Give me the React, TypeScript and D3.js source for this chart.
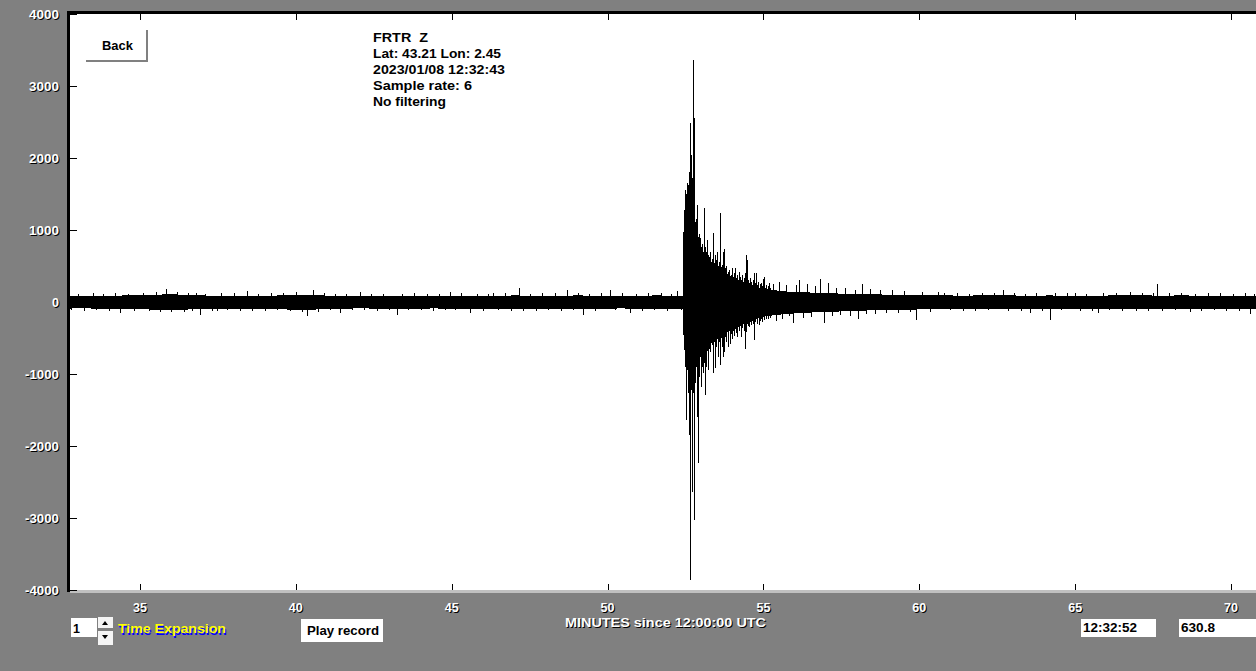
import React from "react";
import * as d3 from "d3";

// ---- data ----
const xTicks = [35, 40, 45, 50, 55, 60, 65, 70];
const yTicks = [4000, 3000, 2000, 1000, 0, -1000, -2000, -3000, -4000];
const xDomain = [35, 70];
const yDomain = [-4000, 4000];

const headerLines = [
  "FRTR\u00a0\u00a0Z",
  "Lat: 43.21 Lon: 2.45",
  "2023/01/08 12:32:43",
  "Sample rate: 6",
  "No filtering",
];
const headerWidths = [55, 128, 132, 99, 73];

// solid core envelope of the trace (counts)
const envMinutes = [
  32.66, 33.0, 33.5, 34.0, 34.5, 35.0, 35.5, 36.0, 36.5, 37.0, 37.5, 38.0, 38.5, 39.0, 39.5, 40.0,
  40.5, 41.0, 41.5, 42.0, 42.5, 43.0, 43.5, 44.0, 44.5, 45.0, 45.5, 46.0, 46.5, 47.0, 47.5, 48.0,
  48.5, 49.0, 49.5, 50.0, 50.5, 51.0, 51.5, 52.0, 52.42,
  52.46, 52.52, 52.58, 52.65, 52.71, 52.78, 52.82, 52.9, 53.06, 53.26, 53.48, 53.7, 54.03, 54.35,
  54.73, 55.08, 55.5, 55.85, 56.5, 57.14, 57.8, 58.42, 59.2, 60.02, 60.8, 61.5, 62.2, 63.0, 63.6,
  64.2, 64.9, 65.5, 66.2, 67.0, 67.7, 68.5, 69.2, 70.0, 70.8,
];
const envUpper = [
  82, 76, 80, 78, 84, 86, 95, 100, 92, 84, 80, 78, 82, 80, 84, 92,
  88, 82, 78, 74, 78, 80, 78, 76, 78, 80, 78, 76, 80, 84, 82, 78,
  80, 84, 82, 78, 80, 78, 84, 82, 82,
  1200, 1400, 1450, 1500, 1600, 1400, 950, 800, 650, 550, 480, 420, 320, 250,
  210, 170, 150, 135, 125, 115, 105, 100, 94, 88, 84, 82, 86, 84, 80,
  84, 78, 80, 84, 86, 82, 84, 80, 82, 82,
];
const envLower = [
  -86, -80, -84, -88, -92, -94, -100, -106, -98, -90, -92, -86, -88, -90, -92, -104,
  -100, -90, -86, -82, -84, -88, -86, -84, -83, -86, -88, -84, -84, -86, -88, -86,
  -88, -90, -88, -84, -83, -86, -85, -88, -86,
  -550, -850, -900, -1000, -1100, -1000, -850, -750, -700, -600, -480, -420, -350, -280,
  -220, -190, -170, -155, -140, -130, -118, -110, -104, -96, -92, -90, -92, -90, -94,
  -96, -88, -86, -90, -88, -90, -92, -88, -90, -88,
];

// per-pixel min/max columns through the main arrival (minutes, counts)
const eventMinutes = [
  52.453, 52.485, 52.517, 52.549, 52.581, 52.613, 52.645, 52.677, 52.71, 52.742,
  52.774, 52.806, 52.838, 52.87, 52.902, 52.934, 52.966, 52.998, 53.03, 53.063,
  53.095, 53.127, 53.159, 53.191, 53.223, 53.255, 53.287, 53.319, 53.352, 53.384,
  53.416, 53.448, 53.48, 53.512, 53.544, 53.576, 53.608, 53.64, 53.672, 53.704,
  53.737, 53.769, 53.801, 53.833, 53.865, 53.897, 53.929, 53.961, 53.993, 54.025,
  54.057, 54.089, 54.122, 54.154, 54.186, 54.218, 54.25, 54.282, 54.314, 54.346,
  54.378, 54.41, 54.442, 54.474, 54.507, 54.539, 54.571, 54.603, 54.635, 54.667,
  54.699, 54.731, 54.763, 54.795, 54.827, 54.859, 54.892, 54.924, 54.956, 54.988,
  55.02, 55.052, 55.084, 55.116, 55.148, 55.18, 55.212,
];
const eventUpper = [
  1260, 1550, 1500, 1650, 1620, 1800, 2490, 2040, 1720, 3360,
  2555, 1000, 1150, 1350, 900, 950, 890, 760, 800, 700,
  1305, 760, 700, 860, 650, 620, 700, 560, 600, 960,
  540, 650, 580, 695, 500, 560, 1235, 480, 520, 700,
  736, 470, 500, 380, 420, 445, 360, 380, 470, 350,
  400, 470, 330, 380, 300, 420, 350, 300, 380, 280,
  330, 400, 650, 583, 300, 260, 330, 280, 240, 300,
  400, 260, 400, 230, 280, 200, 250, 260, 220, 320,
  350, 200, 240, 180, 220, 260, 200,
];
const eventLower = [
  -570, -900, -1640, -950, -1270, -1850, -3860, -1220, -2640, -1270,
  -3030, -1130, -900, -1600, -2240, -1040, -760, -1180, -900, -990,
  -850, -1290, -900, -680, -940, -650, -700, -560, -600, -990,
  -560, -920, -620, -510, -760, -560, -880, -500, -620, -760,
  -700, -480, -560, -420, -620, -400, -590, -450, -520, -400,
  -470, -380, -430, -480, -350, -400, -330, -480, -360, -300,
  -400, -650, -420, -300, -340, -350, -280, -320, -260, -300,
  -530, -280, -240, -300, -220, -320, -260, -230, -280, -210,
  -250, -200, -230, -180, -240, -200, -220,
];

// spikes poking out of the core in the coda and the quiet parts (minutes, counts)
const spikeMinutes = [
  32.8, 33.0, 33.2, 33.49, 33.6, 33.8, 34.0, 34.2, 34.36, 34.6, 34.8, 35.1, 35.3, 35.5, 35.65,
  35.83, 36.0, 36.2, 36.4, 36.55, 36.67, 36.8, 36.92, 37.1, 37.3, 37.47, 37.6, 37.8, 38.0, 38.2,
  38.43, 38.6, 38.8, 39.0, 39.2, 39.4, 39.59, 39.8, 40.0, 40.2, 40.36, 40.55, 40.7, 40.9, 41.1,
  41.25, 41.42, 41.6, 41.8, 42.06, 42.2, 42.4, 42.6, 42.8, 43.0, 43.25, 43.4, 43.6, 43.8, 44.0,
  44.2, 44.4, 44.6, 44.8, 44.95, 45.1, 45.3, 45.59, 45.8, 46.0, 46.15, 46.32, 46.5, 46.7, 46.9,
  47.16, 47.3, 47.5, 47.7, 47.9, 48.1, 48.3, 48.5, 48.7, 48.9, 49.05, 49.21, 49.4, 49.6, 49.8,
  50.08, 50.25, 50.45, 50.72, 50.9, 51.1, 51.3, 51.5, 51.7, 51.9, 52.05, 52.23, 52.35,
  55.31, 55.4, 55.5, 55.6, 55.72, 55.82, 55.95, 56.05, 56.14, 56.27, 56.4, 56.53, 56.66, 56.82,
  56.94, 57.07, 57.2, 57.33, 57.46, 57.62, 57.78, 57.94, 58.04, 58.16, 58.29, 58.42, 58.58, 58.74,
  58.93, 59.13, 59.32, 59.51, 59.7, 59.9, 60.09, 60.34, 60.6,
  60.8, 61.0, 61.2, 61.4, 61.6, 61.8, 62.0, 62.2, 62.4, 62.69, 62.85, 63.05, 63.25, 63.4, 63.55,
  63.75, 63.95, 64.19, 64.35, 64.55, 64.75, 65.0, 65.15, 65.35, 65.55, 65.73, 65.9, 66.1, 66.3,
  66.5, 66.76, 66.95, 67.15, 67.35, 67.5, 67.63, 67.8, 68.0, 68.2, 68.4, 68.69, 68.85, 69.05,
  69.25, 69.45, 69.65, 69.85, 70.05, 70.25, 70.45, 70.61, 70.75,
];
const spikeCounts = [
  -110, 115, -120, 125, -115, 110, -125, 120, -150, 115, -120, 125, -130, 135, -140,
  180, -145, 140, -135, 125, -130, 120, -180, 115, -120, -130, 120, -115, 120, -125,
  155, -120, 115, -125, 120, -115, 125, -130, 135, -140, -200, 165, -135, 120, -115,
  115, -155, 110, -115, 140, -110, 115, -120, 110, -115, -180, 115, -110, 120, -115,
  110, -120, 115, -110, 140, -115, 120, -155, 115, -120, 115, 130, -115, 120, -125,
  190, -120, 115, -120, 125, -115, 120, -120, 165, -115, 120, -180, 115, -120, 120,
  165, -115, 120, -155, 115, -120, 120, -115, 125, -120, 115, 155, -115,
  250, -260, 280, -230, 240, -200, -290, 230, 306, -220, 250, -210, 220, 320,
  -290, 260, -200, 200, -180, 190, -190, 170, -240, 250, -170, 180, -160, 170,
  -150, 160, -150, 150, -140, -250, 140, -140, 135,
  120, -115, 130, -120, 115, -125, 120, -115, 125, 165, -120, 120, -125, 115, -150,
  120, -120, -250, 120, -115, 125, 130, -120, 115, -125, -150, 120, -115, 125,
  -120, 140, -120, 120, -125, 120, 250, -120, 125, -115, 120, -140, 115, -120,
  125, -115, 130, -120, 115, -125, 120, -170, 115,
];

// ---- layout ----
const W = 1256;
const H = 671;
const plotLeft = 70;
const plotTop = 14;
const plotBottom = 590;

function ShadowText(props: {
  x: number;
  y: number;
  text: string;
  anchor?: string;
  size?: number;
  weight?: string;
  fill?: string;
  shadow?: string;
  dx?: number;
  dy?: number;
  len?: number;
}) {
  const {
    x, y, text, anchor = "start", size = 12, weight = "bold",
    fill = "#ffffff", shadow = "#000000", dx = 1, dy = 1, len,
  } = props;
  const common: any = {
    textAnchor: anchor,
    fontSize: size,
    fontWeight: weight,
    fontFamily: "'Liberation Sans', Arial, sans-serif",
  };
  if (len) {
    common.textLength = len;
    common.lengthAdjust = "spacingAndGlyphs";
  }
  return (
    <g>
      <text x={x + dx} y={y + dy} fill={shadow} {...common}>{text}</text>
      <text x={x} y={y} fill={fill} {...common}>{text}</text>
    </g>
  );
}

export default function App() {
  const x = d3.scaleLinear().domain(xDomain).range([140, 1231]);
  const y = d3.scaleLinear().domain(yDomain).range([plotBottom, plotTop]);

  const idx = envMinutes.map((_, i) => i);
  const area = d3
    .area<number>()
    .x((i) => x(envMinutes[i]))
    .y0((i) => y(envLower[i]))
    .y1((i) => y(envUpper[i]));

  const font = "'Liberation Sans', Arial, sans-serif";
  const col = (m: number) => Math.round(x(m)) + 0.5;

  return (
    <div style={{ position: "fixed", left: 0, top: 0, width: W, height: H }}>
      <svg width={W} height={H} style={{ display: "block" }}>
        <defs>
          <clipPath id="plotClip">
            <rect x={plotLeft} y={plotTop} width={W - plotLeft} height={plotBottom - plotTop} />
          </clipPath>
        </defs>
        <rect x={0} y={0} width={W} height={H} fill="#808080" />
        {/* plot area */}
        <rect x={plotLeft} y={plotTop} width={W - plotLeft} height={plotBottom - plotTop} fill="#ffffff" />
        <rect x={67} y={11} width={W - 67} height={3} fill="#000000" />
        <rect x={67} y={11} width={3} height={581} fill="#000000" />
        <rect x={70} y={590} width={W - 70} height={3} fill="#c0c0c0" />

        {/* ticks */}
        {xTicks.map((t) => (
          <g key={"xt" + t}>
            <line x1={Math.round(x(t)) + 0.5} x2={Math.round(x(t)) + 0.5} y1={plotTop} y2={plotTop + 6} stroke="#000" />
            <line x1={Math.round(x(t)) + 0.5} x2={Math.round(x(t)) + 0.5} y1={plotBottom - 6} y2={plotBottom} stroke="#000" />
          </g>
        ))}
        {yTicks.map((t) => (
          <line key={"yt" + t} x1={plotLeft} x2={plotLeft + 7} y1={Math.round(y(t)) + 0.5} y2={Math.round(y(t)) + 0.5} stroke="#000" />
        ))}

        {/* trace */}
        <g clipPath="url(#plotClip)" shapeRendering="crispEdges">
          <path d={area(idx) || ""} fill="#000" stroke="#000" strokeWidth={1} />
          {eventMinutes.map((m, i) => (
            <line key={"ev" + i} x1={col(m)} x2={col(m)} y1={y(eventLower[i])} y2={y(eventUpper[i])} stroke="#000" strokeWidth={1} />
          ))}
          {spikeMinutes.map((m, i) => (
            <line key={"sp" + i} x1={col(m)} x2={col(m)} y1={y(0)} y2={y(spikeCounts[i])} stroke="#000" strokeWidth={1} />
          ))}
        </g>

        {/* header */}
        {headerLines.map((s, i) => (
          <text
            key={"h" + i}
            x={373}
            y={42 + i * 16}
            fontSize={12.5}
            fontWeight="bold"
            fontFamily={font}
            fill="#000"
            textLength={headerWidths[i]}
            lengthAdjust="spacingAndGlyphs"
          >
            {s}
          </text>
        ))}

        {/* Back button */}
        <rect x={86} y={30} width={62} height={32} fill="#ffffff" />
        <rect x={146} y={30} width={2} height={32} fill="#808080" />
        <rect x={86} y={60} width={62} height={2} fill="#808080" />
        <text x={102} y={50} fontSize={12.5} fontWeight="bold" fontFamily={font} fill="#000" textLength={31} lengthAdjust="spacingAndGlyphs">Back</text>

        {/* y labels */}
        {yTicks.map((t) => (
          <ShadowText key={"yl" + t} x={59} y={y(t) + 4.5} text={String(t)} anchor="end" size={12} len={t < 0 ? 34 : t === 0 ? 7 : 30} />
        ))}
        {/* x labels */}
        {xTicks.map((t) => (
          <ShadowText key={"xl" + t} x={x(t)} y={612} text={String(t)} anchor="middle" size={12} len={14} />
        ))}
        <ShadowText x={565} y={627} text="MINUTES since 12:00:00 UTC" size={12.5} len={201} />

        {/* bottom controls */}
        <rect x={71} y={618} width={26} height={19} fill="#ffffff" />
        <text x={73} y={633} fontSize={12.5} fontWeight="bold" fontFamily={font} fill="#000">1</text>
        <rect x={98} y={617} width={15} height={11} fill="#f4f4f4" />
        <rect x={98} y={631} width={15} height={14} fill="#f4f4f4" />
        <path d="M102,625 L108,625 L105,621 Z" fill="#000" />
        <path d="M102,635 L108,635 L105,639 Z" fill="#000" />
        <ShadowText x={118} y={633} text="Time Expansion" size={13} fill="#ffff00" shadow="#0000ff" dx={1} dy={2} len={108} />

        <rect x={301} y={619} width={82} height={23} fill="#ffffff" />
        <text x={307} y={635} fontSize={12.5} fontWeight="bold" fontFamily={font} fill="#000" textLength={72} lengthAdjust="spacingAndGlyphs">Play record</text>

        <rect x={1081} y={619} width={75} height={18} fill="#ffffff" />
        <text x={1083} y={632} fontSize={12.5} fontWeight="bold" fontFamily={font} fill="#000" textLength={54} lengthAdjust="spacingAndGlyphs">12:32:52</text>
        <rect x={1179} y={619} width={W - 1179} height={18} fill="#ffffff" />
        <text x={1181} y={632} fontSize={12.5} fontWeight="bold" fontFamily={font} fill="#000" textLength={34} lengthAdjust="spacingAndGlyphs">630.8</text>
      </svg>
    </div>
  );
}
